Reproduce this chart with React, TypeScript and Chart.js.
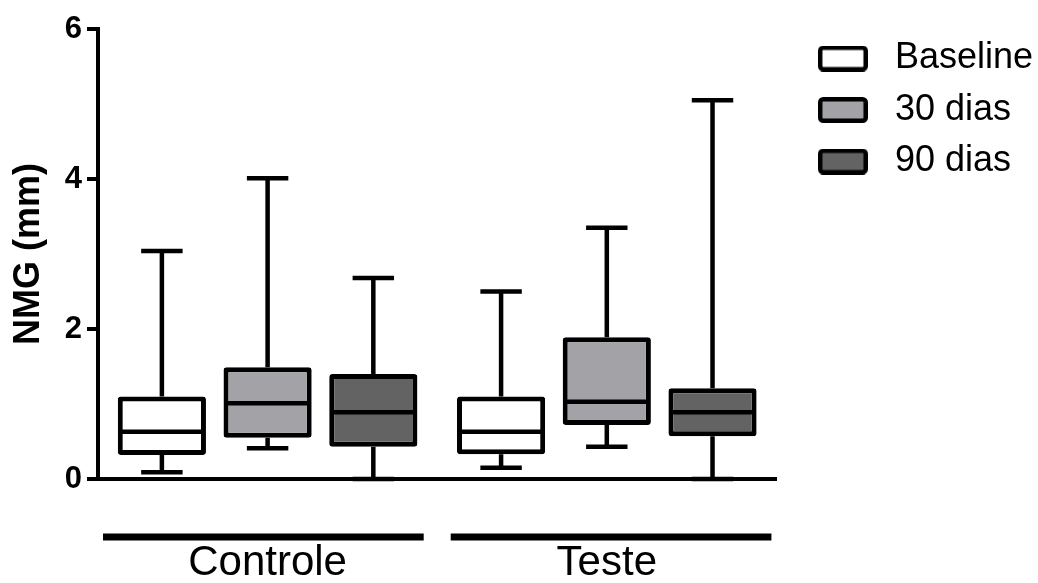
import React, { useEffect, useRef } from 'react';
import { Chart, registerables } from 'chart.js';

Chart.register(...registerables);

const FONT = "'Liberation Sans', Arial, Helvetica, sans-serif";

// Categories and series
const groups = ['Controle', 'Teste'];
const seriesNames = ['Baseline', '30 dias', '90 dias'];
const seriesColors = ['#ffffff', '#a3a2a7', '#636363'];
const yTicks = [0, 2, 4, 6];

// Box-plot values (min, Q1, median, Q3, max) per group
const baselineMin = [0.09, 0.15];
const baselineQ1 = [0.32, 0.33];
const baselineMedian = [0.63, 0.63];
const baselineQ3 = [1.1, 1.1];
const baselineMax = [3.04, 2.5];

const dias30Min = [0.41, 0.43];
const dias30Q1 = [0.55, 0.72];
const dias30Median = [1.01, 1.03];
const dias30Q3 = [1.49, 1.89];
const dias30Max = [4.01, 3.35];

const dias90Min = [0, 0];
const dias90Q1 = [0.43, 0.57];
const dias90Median = [0.89, 0.89];
const dias90Q3 = [1.4, 1.21];
const dias90Max = [2.68, 5.05];

const series = [
  { min: baselineMin, q1: baselineQ1, median: baselineMedian, q3: baselineQ3, max: baselineMax },
  { min: dias30Min, q1: dias30Q1, median: dias30Median, q3: dias30Q3, max: dias30Max },
  { min: dias90Min, q1: dias90Q1, median: dias90Median, q3: dias90Q3, max: dias90Max },
];

function makeLegendImage(fill: string): HTMLCanvasElement {
  const c = document.createElement('canvas');
  c.width = 50;
  c.height = 26;
  const g = c.getContext('2d')!;
  g.beginPath();
  const x = 2.25, y = 2.25, w = 45.5, h = 21.5, r = 3;
  g.moveTo(x + r, y);
  g.lineTo(x + w - r, y);
  g.arcTo(x + w, y, x + w, y + r, r);
  g.lineTo(x + w, y + h - r);
  g.arcTo(x + w, y + h, x + w - r, y + h, r);
  g.lineTo(x + r, y + h);
  g.arcTo(x, y + h, x, y + h - r, r);
  g.lineTo(x, y + r);
  g.arcTo(x, y, x + r, y, r);
  g.closePath();
  g.fillStyle = fill;
  g.fill();
  g.lineWidth = 4.5;
  g.strokeStyle = '#000';
  g.stroke();
  return c;
}

const boxPlotPlugin = {
  id: 'boxWhiskers',
  beforeDatasetsDraw(chart: any) {
    const ctx = chart.ctx;
    const ys = chart.scales.y;
    ctx.save();
    ctx.strokeStyle = '#000';
    ctx.lineWidth = 4.5;
    ctx.lineCap = 'butt';
    series.forEach((s, d) => {
      const meta = chart.getDatasetMeta(d);
      meta.data.forEach((el: any, i: number) => {
        const { x, width } = el.getProps(['x', 'width'], true);
        const cap = width * 0.47;
        const yMax = ys.getPixelForValue(s.max[i]);
        const yMin = ys.getPixelForValue(s.min[i]);
        ctx.beginPath();
        ctx.moveTo(x, ys.getPixelForValue(s.q3[i]));
        ctx.lineTo(x, yMax);
        ctx.moveTo(x, ys.getPixelForValue(s.q1[i]));
        ctx.lineTo(x, yMin);
        ctx.moveTo(x - cap / 2, yMax);
        ctx.lineTo(x + cap / 2, yMax);
        ctx.moveTo(x - cap / 2, yMin);
        ctx.lineTo(x + cap / 2, yMin);
        ctx.stroke();
      });
    });
    ctx.restore();
  },
  afterDatasetsDraw(chart: any) {
    const ctx = chart.ctx;
    const ys = chart.scales.y;
    ctx.save();
    ctx.strokeStyle = '#000';
    ctx.lineWidth = 4.5;
    series.forEach((s, d) => {
      const meta = chart.getDatasetMeta(d);
      meta.data.forEach((el: any, i: number) => {
        const { x, width } = el.getProps(['x', 'width'], true);
        const ym = ys.getPixelForValue(s.median[i]);
        ctx.beginPath();
        ctx.moveTo(x - width / 2 + 2, ym);
        ctx.lineTo(x + width / 2 - 2, ym);
        ctx.stroke();
      });
    });
    ctx.restore();
  },
  afterDraw(chart: any) {
    const ctx = chart.ctx;
    const xs = chart.scales.x;
    const n = groups.length;
    const w = xs.width / n;
    const y = xs.top + 58;
    ctx.save();
    ctx.strokeStyle = '#000';
    ctx.lineWidth = 7;
    for (let i = 0; i < n; i++) {
      const start = xs.left + i * w + (i === 0 ? 5 : 13.5);
      const end = xs.left + (i + 1) * w - (i === n - 1 ? 5 : 13.5);
      ctx.beginPath();
      ctx.moveTo(start, y);
      ctx.lineTo(end, y);
      ctx.stroke();
    }
    ctx.restore();
  },
};

export default function App() {
  const ref = useRef<HTMLCanvasElement | null>(null);

  useEffect(() => {
    if (!ref.current) return;
    const legendImages = seriesColors.map((c) => makeLegendImage(c));
    const chart = new Chart(ref.current, {
      type: 'bar',
      data: {
        labels: groups,
        datasets: seriesNames.map((name, d) => ({
          label: name,
          data: groups.map((_, i) => [series[d].q1[i], series[d].q3[i]]),
          backgroundColor: seriesColors[d],
          borderColor: '#000',
          borderWidth: 5,
          borderSkipped: false,
          borderRadius: 3,
          inflateAmount: 0,
          barPercentage: 0.834,
          categoryPercentage: 0.935,
        })) as any,
      },
      options: {
        responsive: false,
        animation: false,
        devicePixelRatio: 1,
        events: [],
        layout: { padding: { top: 25, left: 0, right: -5, bottom: 0 } },
        plugins: {
          tooltip: { enabled: false },
          legend: {
            position: 'right',
            align: 'start',
            maxWidth: 400,
            labels: {
              usePointStyle: true,
              pointStyleWidth: 68,
              boxHeight: 36,
              padding: 15.5,
              color: '#000',
              font: { family: FONT, size: 36 },
              generateLabels: (c: any) =>
                (Chart.defaults.plugins.legend.labels as any)
                  .generateLabels(c)
                  .map((l: any, i: number) => ({ ...l, pointStyle: legendImages[i] })),
            },
          },
        },
        scales: {
          x: {
            type: 'category',
            position: 'bottom',
            offset: true,
            grid: { display: false, drawTicks: false },
            border: { display: true, color: '#000', width: 4 },
            ticks: {
              color: '#000',
              font: { family: FONT, size: 42 },
              padding: 59,
              maxRotation: 0,
              autoSkip: false,
            },
            afterFit: (s: any) => {
              s.height = 104;
            },
          },
          y: {
            type: 'linear',
            position: 'left',
            min: 0,
            max: 6,
            grid: {
              display: true,
              drawOnChartArea: false,
              drawTicks: true,
              tickLength: 11,
              tickWidth: 4,
              tickColor: '#000',
              lineWidth: 4,
              color: '#000',
            },
            border: { display: true, color: '#000', width: 4 },
            ticks: {
              color: '#000',
              font: { family: FONT, size: 31, weight: 'bold', lineHeight: 1.55 },
              padding: 5,
              stepSize: 2,
            },
            afterBuildTicks: (s: any) => {
              s.ticks = yTicks.map((v) => ({ value: v }));
            },
            title: {
              display: true,
              text: 'NMG (mm)',
              color: '#000',
              font: { family: FONT, size: 36, weight: 'bold' },
              padding: { top: 7, bottom: 0 },
            },
            afterFit: (s: any) => {
              s.width = 98;
            },
          },
          yRight: {
            type: 'linear',
            position: 'right',
            display: true,
            grid: { display: false, drawTicks: false },
            border: { display: false },
            ticks: { display: false },
            afterFit: (s: any) => {
              s.width = 17;
            },
          },
        },
      } as any,
      plugins: [boxPlotPlugin],
    });
    return () => chart.destroy();
  }, []);

  return (
    <div style={{ position: 'absolute', left: 0, top: 0, width: 1038, height: 583, background: '#fff' }}>
      <canvas ref={ref} width={1038} height={583} />
    </div>
  );
}
